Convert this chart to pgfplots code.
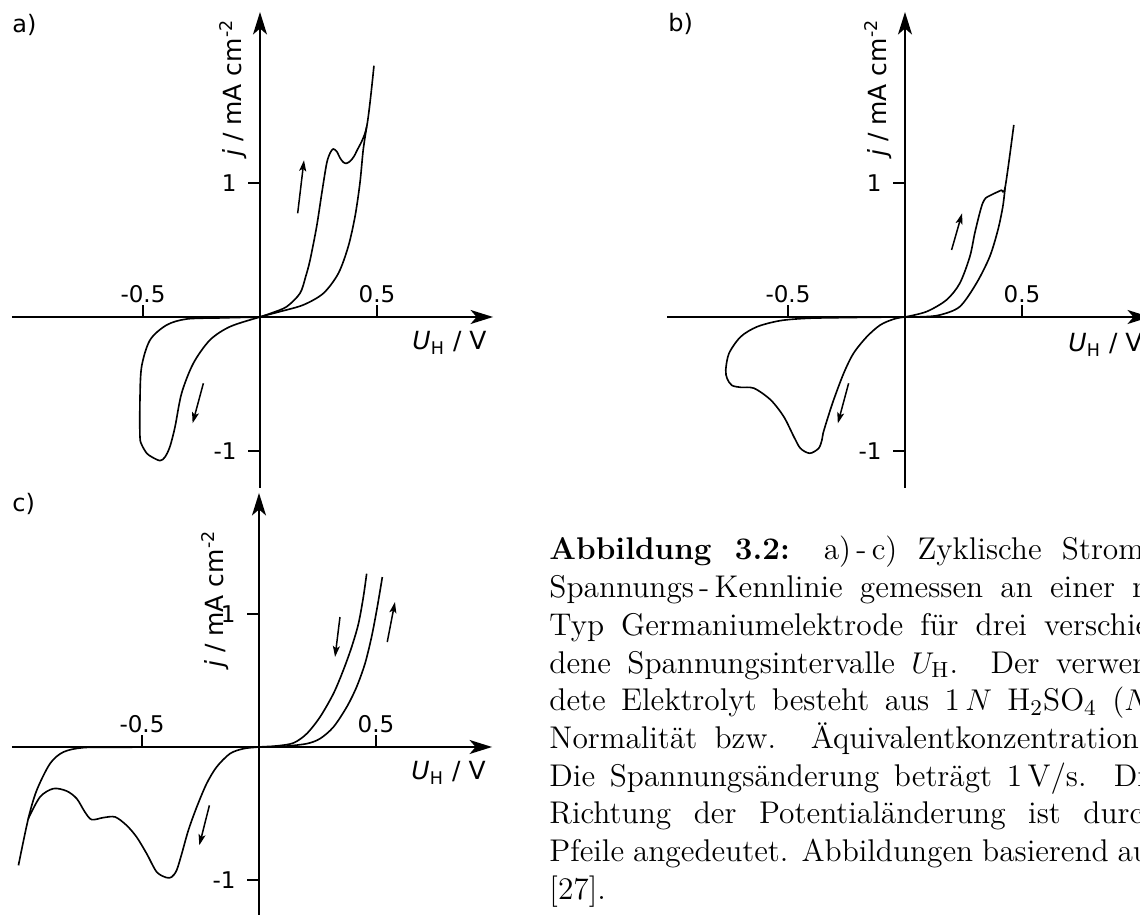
\documentclass[border=0pt]{standalone}
\usepackage{fontspec}
\usepackage{pgfplots}
\pgfplotsset{compat=1.18}
\usetikzlibrary{arrows.meta}
\newfontfamily\axisfont{DejaVu Sans}
\newcommand\af{\axisfont\fontsize{9.2pt}{11pt}\selectfont}
\newcommand\lf{\axisfont\fontsize{10pt}{12pt}\selectfont}
\newcommand\pf{\axisfont\fontsize{9.6pt}{11pt}\selectfont}

\tikzset{sweep/.style={black, line width=0.6pt, -{Stealth[length=4.4pt,width=2.8pt,inset=1pt]}}}
\pgfplotsset{
  cvaxis/.style={
    axis lines=middle,
    x=93.6pt, y=53.6pt,
    anchor=origin,
    clip=false,
    axis line style={line width=0.75pt, -{Stealth[length=9pt,width=5.6pt,inset=2.4pt]}},
    xtick={-0.5,0.5}, xticklabels={-0.5,0.5},
    ytick={-1,1}, yticklabels={-1,1},
    tick align=center, major tick length=4.8pt,
    tick style={line width=0.75pt, black},
    every major x tick/.append style={yshift=2.4pt},
    every major y tick/.append style={xshift=-2.4pt},
    xticklabel style={font=\af, anchor=south, inner sep=0pt, yshift=8pt},
    yticklabel style={font=\af, anchor=east, inner sep=0pt, xshift=-6.8pt},
  },
  cv/.style={black, line width=0.65pt, smooth, tension=0.5, no markers},
}

\begin{document}
\begin{tikzpicture}
\useasboundingbox (0,0) rectangle (456pt,-366pt);
\clip (0,0) rectangle (456pt,-366pt);

% ---------------- a) ----------------
\begin{axis}[cvaxis, at={(104pt,-126.8pt)},
  xmin=-1.06, xmax=0.996, ymin=-1.276, ymax=2.276]
\addplot[cv] table[row sep=\\] {
x y\\
0 0\\
0.05 0.03\\
0.114 0.077\\
0.171 0.177\\
0.195 0.30\\
0.214 0.425\\
0.242 0.674\\
0.264 0.923\\
0.285 1.147\\
0.300 1.225\\
0.313 1.254\\
0.328 1.235\\
0.342 1.187\\
0.356 1.155\\
0.371 1.147\\
0.392 1.175\\
0.413 1.237\\
0.456 1.420\\
0.487 1.875\\
};
\addplot[cv] table[row sep=\\] {
x y\\
0.456 1.420\\
0.441 1.246\\
0.427 0.998\\
0.406 0.749\\
0.377 0.525\\
0.335 0.326\\
0.271 0.177\\
0.185 0.090\\
0.085 0.040\\
0 0\\
-0.128 -0.072\\
-0.214 -0.172\\
-0.285 -0.346\\
-0.335 -0.569\\
-0.363 -0.819\\
-0.385 -0.968\\
-0.406 -1.045\\
-0.427 -1.072\\
-0.462 -1.045\\
-0.484 -1.017\\
-0.505 -0.955\\
-0.513 -0.893\\
-0.513 -0.619\\
-0.506 -0.371\\
-0.470 -0.172\\
-0.399 -0.060\\
-0.313 -0.015\\
-0.171 -0.007\\
0 0\\
};
\draw[sweep] (axis cs:0.161,0.774) -- (axis cs:0.188,1.17);
\draw[sweep] (axis cs:-0.242,-0.495) -- (axis cs:-0.288,-0.793);
\end{axis}

% ---------------- b) ----------------
\begin{axis}[cvaxis, at={(362pt,-126.8pt)},
  xmin=-1.017, xmax=1.047, ymin=-1.276, ymax=2.276]
\addplot[cv] table[row sep=\\] {
x y\\
0 0\\
0.092 0.040\\
0.177 0.127\\
0.234 0.251\\
0.277 0.450\\
0.298 0.624\\
0.319 0.774\\
0.332 0.850\\
0.345 0.888\\
0.362 0.905\\
0.385 0.925\\
0.411 0.946\\
0.428 0.968\\
0.465 1.433\\
};
\addplot[cv] table[row sep=\\] {
x y\\
0.428 0.968\\
0.418 0.823\\
0.397 0.649\\
0.362 0.450\\
0.305 0.251\\
0.234 0.077\\
0.149 0.015\\
0.078 0.002\\
0 0\\
-0.050 -0.017\\
-0.106 -0.060\\
-0.163 -0.147\\
-0.220 -0.271\\
-0.262 -0.420\\
-0.305 -0.619\\
-0.333 -0.769\\
-0.350 -0.868\\
-0.355 -0.918\\
-0.369 -0.980\\
-0.407 -1.017\\
-0.447 -0.980\\
-0.475 -0.893\\
-0.518 -0.744\\
-0.574 -0.619\\
-0.645 -0.532\\
-0.702 -0.525\\
-0.740 -0.510\\
-0.760 -0.460\\
-0.766 -0.396\\
-0.752 -0.271\\
-0.702 -0.147\\
-0.631 -0.072\\
-0.532 -0.027\\
-0.418 -0.010\\
-0.277 -0.005\\
-0.135 -0.002\\
0 0\\
};
\draw[sweep] (axis cs:0.199,0.5) -- (axis cs:0.244,0.774);
\draw[sweep] (axis cs:-0.241,-0.495) -- (axis cs:-0.287,-0.794);
\end{axis}

% ---------------- c) ----------------
\begin{axis}[cvaxis, y=53.2pt, at={(103.6pt,-298.8pt)},
  xmin=-1.056, xmax=0.996, ymin=-1.30, ymax=1.910]
\addplot[cv] table[row sep=\\] {
x y\\
-1.028 -0.890\\
-0.986 -0.539\\
-0.950 -0.326\\
-0.893 -0.125\\
-0.836 -0.038\\
-0.751 -0.005\\
-0.600 -0.002\\
-0.300 0\\
0 0\\
0.104 0.005\\
0.204 0.025\\
0.261 0.063\\
0.318 0.150\\
0.375 0.301\\
0.417 0.451\\
0.453 0.627\\
0.481 0.827\\
0.503 1.028\\
0.520 1.203\\
0.527 1.278\\
};
\addplot[cv] table[row sep=\\] {
x y\\
0.460 1.303\\
0.446 1.128\\
0.425 0.927\\
0.396 0.752\\
0.360 0.576\\
0.318 0.401\\
0.261 0.226\\
0.204 0.100\\
0.147 0.030\\
0.075 0.008\\
0 0\\
-0.067 -0.013\\
-0.124 -0.050\\
-0.181 -0.150\\
-0.224 -0.276\\
-0.266 -0.451\\
-0.302 -0.627\\
-0.330 -0.802\\
-0.352 -0.927\\
-0.373 -0.977\\
-0.395 -0.982\\
-0.437 -0.940\\
-0.480 -0.802\\
-0.523 -0.677\\
-0.566 -0.589\\
-0.615 -0.526\\
-0.665 -0.531\\
-0.715 -0.546\\
-0.744 -0.489\\
-0.779 -0.388\\
-0.822 -0.331\\
-0.879 -0.313\\
-0.936 -0.376\\
-0.986 -0.539\\
};
\draw[sweep] (axis cs:0.346,0.977) -- (axis cs:0.325,0.677);
\draw[sweep] (axis cs:0.548,0.789) -- (axis cs:0.581,1.090);
\draw[sweep] (axis cs:-0.212,-0.439) -- (axis cs:-0.255,-0.739);
\end{axis}

% labels (picture coordinates, 1 unit = 0.4pt, y downwards)
\begin{scope}[x=0.4pt, y=-0.4pt, every node/.style={inner sep=0pt, font=\lf}]
\node[anchor=base west, font=\pf] at (12,33) {a)};
\node[anchor=base west, font=\pf] at (668,32) {b)};
\node[anchor=base west, font=\pf] at (12,512) {c)};
\node[rotate=90, anchor=base] at (242,88) {\textit{j} / mA cm\textsuperscript{-2}};
\node[rotate=90, anchor=base] at (887,88) {\textit{j} / mA cm\textsuperscript{-2}};
\node[rotate=90, anchor=base] at (224,599) {\textit{j} / mA cm\textsuperscript{-2}};
\node[anchor=base west] at (412,350) {\textit{U}\textsubscript{H} / V};
\node[anchor=base west] at (1068,352) {\textit{U}\textsubscript{H} / V};
\node[anchor=base west] at (411,780) {\textit{U}\textsubscript{H} / V};
\node[anchor=base west, font=\normalfont] at (549,560) {%
  \parbox[t]{244pt}{\fontsize{12.56pt}{15.08pt}\selectfont\parindent=0pt
  \makebox[\linewidth][s]{\textbf{Abbildung 3.2:} a)\,-\,c) Zyklische Strom\,-}\par
  \makebox[\linewidth][s]{Spannungs\,-\,Kennlinie gemessen an einer n-}\par
  \makebox[\linewidth][s]{Typ Germaniumelektrode für drei verschie-}\par
  \makebox[\linewidth][s]{dene Spannungsintervalle $U_{\mathrm{H}}$. Der verwen-}\par
  \makebox[\linewidth][s]{dete Elektrolyt besteht aus 1\,$N$ H$_2$SO$_4$ ($N$:}\par
  \makebox[\linewidth][s]{Normalität bzw. Äquivalentkonzentration).}\par
  \makebox[\linewidth][s]{Die Spannungsänderung beträgt 1\,V/s. Die}\par
  \makebox[\linewidth][s]{Richtung der Potentialänderung ist durch}\par
  \makebox[\linewidth][s]{Pfeile angedeutet. Abbildungen basierend auf}\par
  [27].}};
\end{scope}
\end{tikzpicture}
\end{document}
